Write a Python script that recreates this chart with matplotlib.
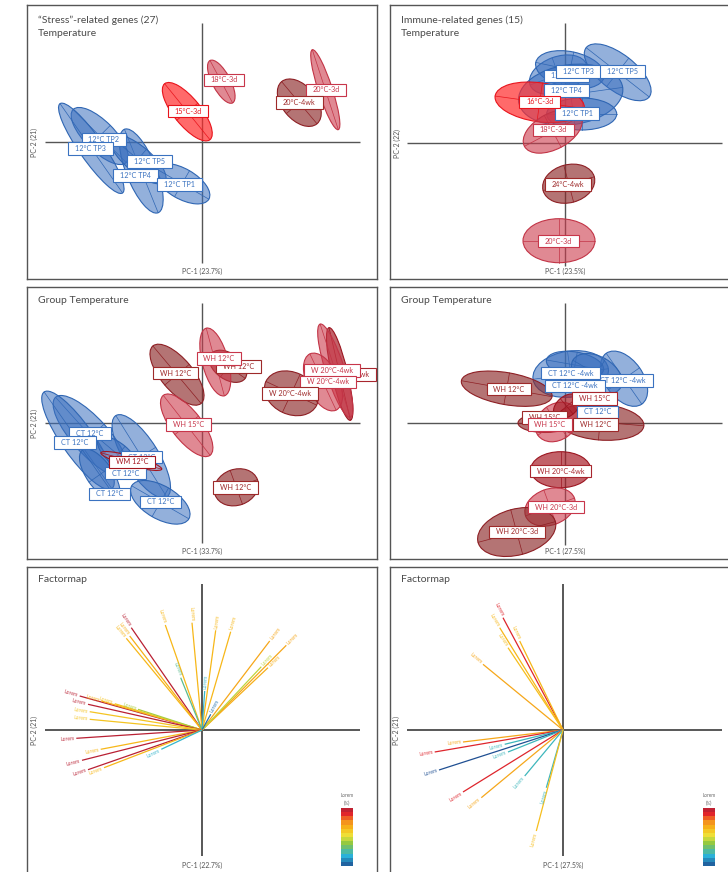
import numpy as np
import matplotlib
matplotlib.use("Agg")
import matplotlib.pyplot as plt
from matplotlib.patches import Ellipse
from matplotlib.colors import LinearSegmentedColormap, Normalize, to_rgba
from matplotlib.cm import ScalarMappable

plt.rcParams['font.family'] = ['Lato', 'DejaVu Sans']

# ---- panel 1: stress-related genes, temperature groups ----
p1_names = ["12°C TP2", "12°C TP3", "12°C TP4", "12°C TP5", "12°C TP1",
            "15°C-3d", "18°C-3d", "20°C-3d", "20°C-4wk"]
p1_kind = ["blue", "blue", "blue", "blue", "blue", "red", "pink", "pink", "dark"]
p1_cx = [-10.23, -11.07, -6.07, -6.4, -2.0, -1.47, 1.93, 12.33, 9.73]
p1_cy = [0.6, -0.63, -2.9, -1.73, -4.17, 3.03, 6.03, 5.23, 3.93]
p1_major = [7.5, 10.9, 9.0, 7.0, 6.2, 7.2, 4.8, 8.4, 5.5]
p1_minor = [3.0, 2.4, 3.0, 2.6, 3.0, 2.7, 1.8, 1.4, 3.4]
p1_angle = [135, 125, 112, 140, 150, 129, 118, 108, 130]
p1_lx = [-9.8, -11.17, -6.67, -5.23, -2.23, -1.4, 2.2, 12.4, 9.73]
p1_ly = [0.23, -0.67, -3.33, -1.97, -4.27, 3.1, 6.2, 5.2, 3.93]

# ---- panel 2: immune-related genes, temperature groups ----
p2_names = ["12°C TP2", "12°C TP3", "12°C TP5", "12°C TP4", "12°C TP1",
            "16°C-3d", "18°C-3d", "24°C-4wk", "20°C-3d"]
p2_kind = ["blue", "blue", "blue", "blue", "blue", "red", "pink", "dark", "pink"]
p2_cx = [-0.67, 0.5, 5.27, 0.57, 1.67, -2.53, -1.23, 0.37, -0.6]
p2_cy = [6.83, 7.33, 7.07, 4.83, 2.9, 4.07, 1.17, -4.07, -9.77]
p2_major = [6.0, 7.0, 8.0, 10.5, 7.0, 9.0, 6.4, 5.3, 7.2]
p2_minor = [3.6, 3.6, 3.6, 6.0, 3.2, 3.9, 3.6, 3.8, 4.4]
p2_angle = [20, -12, -38, 8, 0, -8, 28, 15, 0]
p2_lx = [0.17, 1.37, 5.73, 0.17, 1.2, -2.53, -1.17, 0.33, -0.63]
p2_ly = [6.7, 7.13, 7.13, 5.23, 2.97, 4.1, 1.3, -4.13, -9.8]

# ---- panel 3: stress-related genes, group x temperature ----
p3_names = ["CT 12°C", "CT 12°C", "CT 12°C", "CT 12°C", "CT 12°C", "CT 12°C",
            "WM 12°C", "WH 12°C", "WH 12°C", "WH 12°C", "WH 15°C", "WH 12°C",
            "W 20°C-4wk", "W 20°C-4wk", "W 20°C-4wk", "W 20°C-4wk"]
p3_kind = ["blue", "blue", "blue", "blue", "blue", "blue",
           "wm", "dark", "dark", "pink", "pink", "dark",
           "crimson", "pink", "pink", "dark"]
p3_cx = [-11.13, -12.4, -6.07, -8.4, -10.23, -4.17,
         -7.07, -2.5, 2.6, 1.33, -1.53, 3.43,
         13.77, 13.33, 12.1, 8.93]
p3_cy = [-1.33, -1.73, -3.33, -3.17, -5.17, -7.93,
         -3.8, 4.83, 5.67, 6.1, -0.23, -6.43,
         4.9, 5.23, 4.1, 2.97]
p3_major = [10.5, 11.8, 9.6, 5.0, 6.0, 6.6, 6.3, 7.5, 4.2, 7.0, 7.6, 4.5, 9.5, 9.8, 6.2, 5.6]
p3_minor = [3.6, 3.2, 3.4, 2.2, 2.6, 3.3, 1.0, 3.2, 2.6, 2.6, 3.0, 3.6, 1.6, 1.9, 3.2, 4.2]
p3_angle = [132, 125, 122, 140, 125, 150, -15, 130, -35, 105, 128, 20, 103, 108, 115, -25]
p3_lx = [-11.2, -12.7, -6.03, -7.63, -9.23, -4.17,
         -7.0, -2.63, 3.67, 1.7, -1.37, 3.37,
         14.6, 12.97, 12.57, 8.83]
p3_ly = [-1.07, -1.97, -3.4, -5.0, -7.1, -7.9,
         -3.9, 5.0, 5.67, 6.43, -0.13, -6.43,
         4.87, 5.23, 4.1, 2.93]

# ---- panel 4: immune-related genes, group x temperature ----
p4_names = ["CT 12°C -4wk", "CT 12°C -4wk", "CT 12°C -4wk", "CT 12°C",
            "WH 12°C", "WH 12°C", "WH 15°C", "WH 15°C", "WH 15°C",
            "WH 20°C-4wk", "WH 20°C-3d", "WH 20°C-3d"]
p4_kind = ["blue", "blue", "blue", "blue",
           "dark", "dark", "dark", "pink", "crimson",
           "crimson", "pink", "dark"]
p4_cx = [5.9, 0.57, 1.0, 3.17, -5.83, 3.5, -2.0, -0.83, 0.17, -0.43, -1.5, -4.83]
p4_cy = [4.43, 4.9, 5.8, 4.9, 3.43, 0.1, 0.0, 0.1, 1.67, -4.67, -8.4, -10.9]
p4_major = [6.2, 7.6, 5.8, 5.5, 9.2, 8.8, 5.4, 4.6, 3.0, 6.0, 5.2, 8.0]
p4_minor = [3.8, 4.6, 2.6, 3.5, 3.2, 3.6, 1.9, 3.6, 2.0, 3.6, 3.6, 4.6]
p4_angle = [-55, 8, -10, -30, -10, -5, 0, 35, 40, 0, 20, 15]
p4_lx = [5.83, 0.57, 1.0, 3.23, -5.6, 3.03, -2.07, -1.5, 2.93, -0.43, -0.87, -4.83]
p4_ly = [4.27, 5.0, 3.7, 1.1, 3.4, -0.13, 0.53, -0.13, 2.43, -4.8, -8.4, -10.9]

# ---- panel 5 / 6: factor maps (loadings and contribution %) ----
p5_x = [-7.07, -7.23, -7.57, -3.67, -1.0, 1.37, 2.87, 6.77, 8.43, 6.6, 5.93, -2.13, 0.27, 0.87,
        -12.23, -10.07, -8.73, -6.4, -11.4, -11.23, -11.23, -12.57, -10.13, -12.0, -11.4, -9.8, -4.07]
p5_y = [10.23, 9.4, 9.17, 10.5, 10.73, 9.97, 9.83, 8.9, 8.47, 6.23, 6.33, 5.23, 3.9, 1.57,
        3.4, 2.9, 2.63, 2.07, 2.57, 1.83, 1.07, -0.83, -1.93, -3.03, -3.97, -3.77, -1.93]
p5_pct = [98, 68, 66, 66, 66, 66, 66, 70, 70, 68, 45, 28, 20, 6,
          98, 68, 62, 42, 98, 62, 62, 98, 66, 98, 98, 66, 20]

p6_x = [-6.0, -6.33, -4.33, -5.5, -8.0, -10.0, -12.83, -5.83, -12.4, -5.5, -10.0, -8.17, -3.83, -1.67, -2.67]
p6_y = [11.23, 10.23, 8.9, 8.23, 6.57, -1.2, -2.2, -1.43, -4.0, -2.2, -6.2, -6.77, -4.6, -5.77, -10.1]
p6_pct = [90, 66, 66, 64, 70, 70, 90, 22, 0, 22, 90, 70, 22, 22, 64]

# fill colour, edge colour, fill alpha
KINDS = {
    "blue": ("#3b70bf", "#2f66b3", 0.55),
    "red": ("#ff2b2b", "#e8141c", 0.7),
    "pink": ("#cc3a4b", "#c23446", 0.6),
    "dark": ("#8c2a2a", "#8e1f24", 0.65),
    "crimson": ("#a8202a", "#9c1520", 0.7),
    "wm": ("#e8a0a8", "#a3151f", 0.3),
}
LABEL_COLORS = {"blue": "#3a72c0", "red": "#e8141c", "pink": "#c8364a",
                "dark": "#9e2a2a", "crimson": "#a8262e", "wm": "#a3151f"}

CMAP = LinearSegmentedColormap.from_list("contrib", [
    (0.0, "#1f4f92"), (0.18, "#2bb3da"), (0.38, "#8cc641"), (0.52, "#eee43a"),
    (0.66, "#f7b718"), (0.78, "#f38a1f"), (0.88, "#e8262a"), (1.0, "#b01f35")])
NORM = Normalize(0, 100)

W, H = 728, 872
SCALE = 10.0
GRAY = "#555555"

fig = plt.figure(figsize=(W / 100, H / 100), dpi=100)


def ftext(x, y, s, **kw):
    fig.text(x / W, 1 - y / H, s, **kw)


def make_panel(rect, origin):
    x0, y0, x1, y1 = rect
    ox, oy = origin
    ax = fig.add_axes([x0 / W, 1 - y1 / H, (x1 - x0) / W, (y1 - y0) / H])
    ax.set_xlim((x0 - ox) / SCALE, (x1 - ox) / SCALE)
    ax.set_ylim((oy - y1) / SCALE, (oy - y0) / SCALE)
    ax.set_xticks([])
    ax.set_yticks([])
    for s in ax.spines.values():
        s.set_color(GRAY)
        s.set_linewidth(1.0)
    return ax


def draw_cross(ax, hx, vy, color, lw):
    ax.plot(hx, [0, 0], color=color, lw=lw, zorder=1, solid_capstyle="butt")
    ax.plot([0, 0], vy, color=color, lw=lw, zorder=1, solid_capstyle="butt")


def draw_groups(ax, names, kind, cx, cy, major, minor, angle, lx, ly):
    for i in range(len(names)):
        fill, edge, alpha = KINDS[kind[i]]
        ax.add_patch(Ellipse((cx[i], cy[i]), major[i], minor[i], angle=angle[i],
                             fc=to_rgba(fill, alpha), ec=edge, lw=0.8, zorder=2))
        t = np.radians(angle[i])
        ux, uy = np.cos(t), np.sin(t)
        a, b = major[i] / 2, minor[i] / 2
        ax.plot([cx[i] - a * ux, cx[i] + a * ux], [cy[i] - a * uy, cy[i] + a * uy],
                color=edge, lw=0.5, zorder=2)
        ax.plot([cx[i] + b * uy, cx[i] - b * uy], [cy[i] - b * ux, cy[i] + b * ux],
                color=edge, lw=0.5, zorder=2)
    for i in range(len(names)):
        c = LABEL_COLORS[kind[i]]
        ax.text(lx[i], ly[i], names[i], ha="center", va="center", fontsize=5.2, color=c,
                zorder=5 + i * 0.01,
                bbox=dict(boxstyle="square,pad=0.95", mutation_aspect=0.4,
                          fc="white", ec=c, lw=0.8))


def draw_factormap(ax, xs, ys, pct):
    for x, y, p in zip(xs, ys, pct):
        c = CMAP(NORM(p))
        ax.plot([0, x], [0, y], color=c, lw=0.9, zorder=3, solid_capstyle="butt")
        ang = np.degrees(np.arctan2(y, x))
        r = np.hypot(x, y)
        tx, ty = x + 0.2 * x / r, y + 0.2 * y / r
        if x < 0:
            rot = ang - 180 if ang > 0 else ang + 180
            ha = "right"
        else:
            rot, ha = ang, "left"
        ax.text(tx, ty, "Lorem", rotation=rot, rotation_mode="anchor", ha=ha, va="center",
                fontsize=3.6, color=c, alpha=0.9, zorder=4)


def draw_colorbar(x, y):
    cax = fig.add_axes([x / W, 1 - (y + 58) / H, 12 / W, 58 / H])
    cb = fig.colorbar(ScalarMappable(NORM, CMAP), cax=cax, boundaries=np.linspace(0, 100, 15))
    cb.outline.set_visible(False)
    cb.set_ticks([])
    ftext(x + 6, y - 13, "Lorem", ha="center", va="center", fontsize=3.3, color="#666666")
    ftext(x + 6, y - 5, "(%)", ha="center", va="center", fontsize=3.3, color="#666666")


def titles(x0, y0, lines):
    for k, s in enumerate(lines):
        ftext(x0 + 11, y0 + 15 + 13 * k, s, ha="left", va="center", fontsize=7.5, color="#4a4a4a")


def axis_labels(origin, pc1, pc1_y, pc2, pc2_x):
    ftext(origin[0], pc1_y, pc1, ha="center", va="center", fontsize=5, color=GRAY)
    if pc2:
        ftext(pc2_x, origin[1], pc2, ha="center", va="center", fontsize=5, color=GRAY, rotation=90)


# row 1
ax1 = make_panel((27, 5, 377, 279), (202, 142))
draw_cross(ax1, [-15.7, 15.8], [-12.1, 11.9], GRAY, 1.0)
draw_groups(ax1, p1_names, p1_kind, p1_cx, p1_cy, p1_major, p1_minor, p1_angle, p1_lx, p1_ly)
titles(27, 5, ["\u201cStress\u201d-related genes (27)", "Temperature"])
axis_labels((202, 142), "PC-1 (23.7%)", 271, "PC-2 (21)", 34)

ax2 = make_panel((390, 5, 745, 279), (565, 143))
draw_cross(ax2, [-15.8, 15.7], [-12.3, 12.0], GRAY, 1.0)
draw_groups(ax2, p2_names, p2_kind, p2_cx, p2_cy, p2_major, p2_minor, p2_angle, p2_lx, p2_ly)
titles(390, 5, ["Immune-related genes (15)", "Temperature"])
axis_labels((565, 143), "PC-1 (23.5%)", 271, "PC-2 (22)", 397)

# row 2
ax3 = make_panel((27, 287, 377, 559), (202, 423))
draw_cross(ax3, [-15.7, 15.8], [-12.0, 12.0], GRAY, 1.0)
draw_groups(ax3, p3_names, p3_kind, p3_cx, p3_cy, p3_major, p3_minor, p3_angle, p3_lx, p3_ly)
titles(27, 285, ["Group Temperature"])
axis_labels((202, 423), "PC-1 (33.7%)", 551, "PC-2 (21)", 34)

ax4 = make_panel((390, 287, 745, 559), (565, 423))
draw_cross(ax4, [-15.8, 15.7], [-12.2, 12.0], GRAY, 1.0)
draw_groups(ax4, p4_names, p4_kind, p4_cx, p4_cy, p4_major, p4_minor, p4_angle, p4_lx, p4_ly)
titles(390, 285, ["Group Temperature"])
axis_labels((565, 423), "PC-1 (27.5%)", 551, None, None)

# row 3
ax5 = make_panel((27, 567, 377, 880), (202, 730))
draw_cross(ax5, [-15.7, 15.8], [-12.6, 14.6], "#2a2a2a", 1.1)
draw_factormap(ax5, p5_x, p5_y, p5_pct)
titles(27, 565, ["Factormap"])
axis_labels((202, 730), "PC-1 (22.7%)", 865, "PC-2 (21)", 34)
draw_colorbar(341, 808)

ax6 = make_panel((390, 567, 745, 880), (563, 730))
draw_cross(ax6, [-15.6, 15.9], [-12.6, 14.6], "#2a2a2a", 1.1)
draw_factormap(ax6, p6_x, p6_y, p6_pct)
titles(390, 565, ["Factormap"])
axis_labels((563, 730), "PC-1 (27.5%)", 865, "PC-2 (21)", 396)
draw_colorbar(703, 808)

fig.savefig("out.png", dpi=100)
